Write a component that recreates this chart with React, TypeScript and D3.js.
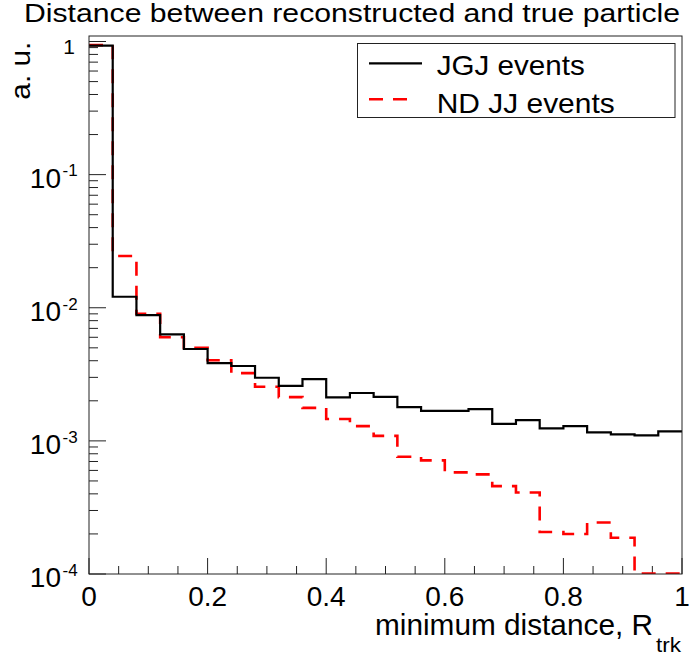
import React from "react";
import * as d3 from "d3";

const binEdgesStep = 0.04;
const jgjValues = [
  0.93, 0.0121, 0.00881, 0.00631, 0.0049, 0.00384, 0.00365, 0.00298, 0.00259, 0.00291,
  0.00212, 0.00229, 0.00214, 0.00179, 0.00168, 0.00168, 0.00173, 0.00134, 0.00143, 0.00124,
  0.00129, 0.00116, 0.00112, 0.0011, 0.00118,
];
const ndjjValues = [
  0.94, 0.0245, 0.00901, 0.006, 0.005, 0.00403, 0.00323, 0.00255, 0.00213, 0.00177,
  0.00146, 0.00129, 0.00109, 0.00076, 0.000714, 0.00058, 0.00056, 0.000457, 0.00041, 0.000207,
  0.0002, 0.000244, 0.000187, 0.000101, 0.000101,
];
const xTickValues = [0, 0.2, 0.4, 0.6, 0.8, 1];
const xTickLabels = ["0", "0.2", "0.4", "0.6", "0.8", "1"];
const yMajorExps = [0, -1, -2, -3, -4];
const titleText = "Distance between reconstructed and true particle";
const xTitle = "minimum distance, R";
const xTitleSub = "trk";
const yTitle = "a. u.";
const legendLabels = ["JGJ events", "ND JJ events"];

const W = 689;
const H = 658;
const L = 89, R = 682, T = 36, B = 574;
const FONT = "'Liberation Sans', Arial, Helvetica, sans-serif";

export default function App() {
  const x = d3.scaleLinear().domain([0, 1]).range([L, R]);
  const y = d3.scaleLog().domain([1e-4, 1.1]).range([B, T]);

  const stepPath = (vals: number[]) => {
    const pts: [number, number][] = [];
    vals.forEach((v, i) => {
      pts.push([i * binEdgesStep, v]);
      pts.push([(i + 1) * binEdgesStep, v]);
    });
    const line = d3
      .line<[number, number]>()
      .x((d) => x(d[0]))
      .y((d) => y(d[1]));
    return line(pts) || "";
  };

  const xMinor = d3.range(0, 1.0001, 0.05).filter((v) => !xTickValues.some((t) => Math.abs(t - v) < 1e-6));
  const yMinor: number[] = [];
  for (let e = -4; e < 1; e++) {
    for (let m = 2; m <= 9; m++) {
      const v = m * Math.pow(10, e);
      if (v <= 1.1) yMinor.push(v);
    }
  }

  return (
    <svg width={W} height={H} style={{ display: "block", position: "absolute", left: 0, top: 0 }} fontFamily={FONT}>
      <rect x={0} y={0} width={W} height={H} fill="white" />
      <text x={24} y={22} fontSize={25} textLength={656} lengthAdjust="spacingAndGlyphs">
        {titleText}
      </text>
      <defs>
        <clipPath id="plotclip">
          <rect x={L} y={T - 2} width={R - L} height={B - T + 2} />
        </clipPath>
      </defs>
      {/* ticks */}
      {xTickValues.map((v) => (
        <line key={"xM" + v} x1={x(v)} x2={x(v)} y1={B} y2={B - 16} stroke="#222" strokeWidth={1} />
      ))}
      {xMinor.map((v) => (
        <line key={"xm" + v} x1={x(v)} x2={x(v)} y1={B} y2={B - 8} stroke="#222" strokeWidth={1} />
      ))}
      {yMajorExps.map((e) => (
        <line key={"yM" + e} x1={L} x2={L + 17} y1={y(Math.pow(10, e))} y2={y(Math.pow(10, e))} stroke="#222" strokeWidth={1} />
      ))}
      {yMinor.map((v, i) => (
        <line key={"ym" + i} x1={L} x2={L + 9} y1={y(v)} y2={y(v)} stroke="#222" strokeWidth={1} />
      ))}
      {/* histograms */}
      <g clipPath="url(#plotclip)">
        <path d={stepPath(ndjjValues)} fill="none" stroke="#ff0000" strokeWidth={2.6} strokeDasharray="14 10" />
        <path d={stepPath(jgjValues)} fill="none" stroke="black" strokeWidth={2.2} />
      </g>
      {/* frame */}
      <rect x={L} y={T} width={R - L} height={B - T} fill="none" stroke="#222" strokeWidth={1} />
      {/* x labels */}
      {xTickValues.map((v, i) => (
        <text key={"xl" + v} x={x(v)} y={606} fontSize={28} textAnchor="middle">
          {xTickLabels[i]}
        </text>
      ))}
      {/* y labels */}
      {yMajorExps.map((e) => {
        const yy = y(Math.pow(10, e));
        if (e === 0) {
          return (
            <text key="yl0" x={75} y={yy + 12.8} fontSize={21} textAnchor="end">
              1
            </text>
          );
        }
        return (
          <g key={"yl" + e}>
            <text x={61} y={yy + 13.3} fontSize={28} textAnchor="end">
              10
            </text>
            <text x={62.5} y={yy + 1.8} fontSize={17} textAnchor="start">
              {String(e)}
            </text>
          </g>
        );
      })}
      {/* axis titles */}
      <text x={375} y={635} fontSize={29} textLength={278} lengthAdjust="spacingAndGlyphs">
        {xTitle}
      </text>
      <text x={656} y={652} fontSize={20} textLength={25} lengthAdjust="spacingAndGlyphs">
        {xTitleSub}
      </text>
      <text transform="translate(30,41.7) rotate(-90)" fontSize={28} textAnchor="end" textLength={58} lengthAdjust="spacingAndGlyphs">
        {yTitle}
      </text>
      {/* legend */}
      <rect x={357.5} y={43.5} width={317.5} height={74} fill="white" stroke="#222" strokeWidth={1} />
      <line x1={369} x2={422} y1={63.3} y2={63.3} stroke="black" strokeWidth={2.2} />
      <text x={436.7} y={75} fontSize={28} textLength={148} lengthAdjust="spacingAndGlyphs">
        {legendLabels[0]}
      </text>
      <line x1={369} x2={408} y1={99.3} y2={99.3} stroke="#ff0000" strokeWidth={2.6} strokeDasharray="14 10" />
      <text x={436.7} y={112.7} fontSize={28} textLength={178} lengthAdjust="spacingAndGlyphs">
        {legendLabels[1]}
      </text>
    </svg>
  );
}
